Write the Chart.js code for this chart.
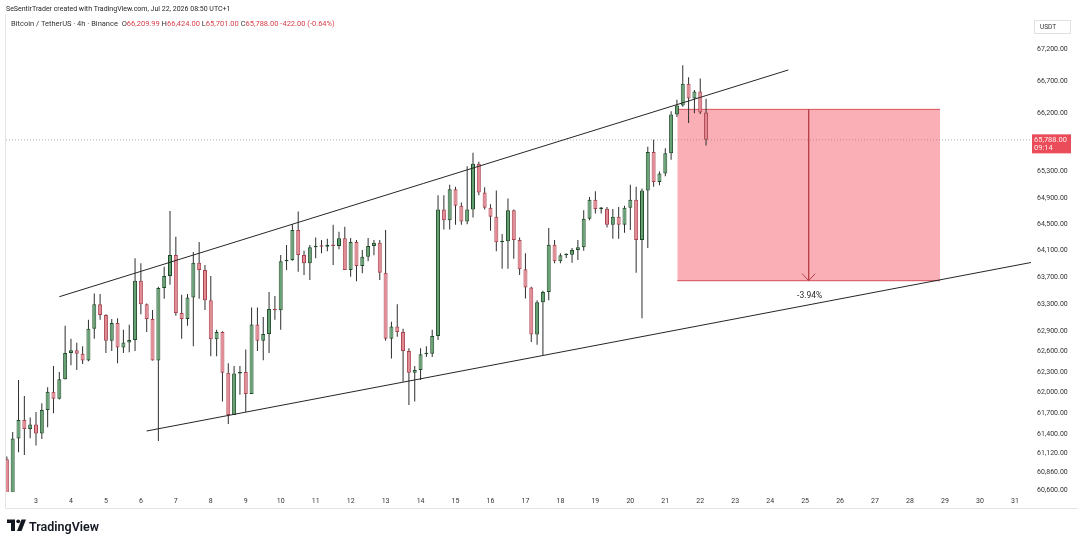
<!DOCTYPE html>
<html><head><meta charset="utf-8">
<script src="https://cdn.jsdelivr.net/npm/chart.js@4.4.1/dist/chart.umd.min.js"></script>
<style>html,body{margin:0;padding:0;background:#fff;}canvas{display:block;}</style>
</head><body>
<canvas id="c" width="1078" height="536"></canvas>
<script>
// ---- data (BTC/USDT, 4h candles) ----
const firstBarDay = 2 + 4/24;   // Jul 2, 04:00
const barHours = 4;
const opens  = [61040,60560,61336,61604,61475,61540,61410,61750,62015,61910,62195,62580,62620,62570,62470,62935,63300,63140,62760,63020,62660,62735,62770,63650,63300,63080,62470,63540,63720,64035,63170,63080,63400,63920,63810,63360,62780,62890,62290,61675,62280,62300,61980,63000,62760,62860,63230,63210,63940,63960,64410,64035,63910,64150,64170,64160,64190,64170,64285,63810,64230,63870,64010,64170,64220,63770,62790,62970,62890,62610,62290,62330,62560,62570,62830,64720,64560,65030,64780,64540,64720,65420,64980,64750,64610,64225,64240,64710,64260,63820,63550,62850,63330,63480,64190,63940,64030,64040,64110,64150,64580,64870,64730,64735,64490,64610,64490,64750,64870,64260,65010,65600,65140,65270,65580,66180,66320,66660,66430,66540,66209.99];
const highs  = [61080,61430,62185,61950,61640,61720,61845,62080,62390,62300,62980,62790,62730,62680,63070,63460,63450,63150,63080,63090,62920,62995,63985,63910,63310,63215,63560,63860,64700,64310,63440,63450,64080,64230,63885,63720,62920,62900,62430,62390,62390,62630,63250,63250,63110,63480,63420,64035,64185,64500,64690,64100,64185,64300,64260,64280,64490,64385,64460,64290,64260,64110,64290,64260,64260,64410,63040,63300,62935,62650,62390,62650,62680,62920,64940,64940,65100,65070,64830,65380,65590,65450,65060,64800,65010,64350,64890,64720,64300,64060,63560,63360,63500,64440,64260,64060,64060,64140,64260,64710,64910,65000,64760,64760,64730,64760,64780,65100,65070,65040,65680,65790,65300,65660,66230,66410,66950,66760,66560,66740,66424];
const lows   = [60500,60520,61140,61100,61340,61235,61330,61500,61700,61900,62190,62400,62330,62420,62460,62790,63070,62580,62610,62430,62580,62590,62610,63150,62890,62470,61300,63380,63590,63130,62790,62980,62680,63380,63215,62530,62530,61870,61545,61675,61970,61720,61980,62610,62475,62580,63070,62920,63810,63950,63785,63735,63660,63985,64060,64090,63885,64120,63810,63710,63640,63760,63940,64030,63660,62760,62500,62820,62160,61820,61870,62185,62520,62520,62770,64420,64420,64490,64490,64500,64600,64940,64720,64400,64090,63830,63830,63980,63735,63385,62740,62700,62550,63360,63910,63910,63990,63920,63960,64100,64560,64660,64660,64450,64280,64280,64370,64410,63770,63090,64140,65070,65090,65230,65480,66140,66300,66050,66200,66190,65701];
const closes = [60540,61336,61604,61475,61540,61410,61750,62015,61910,62195,62580,62620,62570,62470,62935,63300,63140,62760,63020,62660,62735,62770,63650,63300,63080,62470,63540,63720,64035,63170,63080,63400,63920,63810,63360,62780,62890,62290,61675,62280,62300,61980,63000,62760,62860,63230,63210,63940,63960,64410,64035,63910,64150,64170,64160,64190,64170,64285,63810,64230,63870,64010,64170,64220,63770,62790,62970,62890,62610,62290,62330,62560,62570,62830,64720,64560,65030,64780,64540,64720,65420,64980,64750,64610,64225,64240,64710,64260,63820,63550,62850,63330,63480,64190,63940,64030,64040,64110,64150,64580,64870,64730,64735,64490,64610,64490,64750,64870,64260,65010,65600,65140,65270,65580,66180,66320,66660,66430,66540,66210,65788];

const dayTicks   = [3,4,5,6,7,8,9,10,11,12,13,14,15,16,17,18,19,20,21,22,23,24,25,26,27,28,29,30,31];
const priceTicks = [60600,60860,61120,61400,61700,62000,62300,62600,62900,63300,63700,64100,64500,64900,65300,66200,66700,67200];

// drawings (day, price)
const upperTrendDays   = [3.6665, 24.519];
const upperTrendPrices = [63411, 66875];
const lowerTrendDays   = [6.1665, 31.46];
const lowerTrendPrices = [61445, 63922];
const rangeDays   = [21.344, 28.858];
const rangePrices = [66260, 63650];

const xMin = 2.1419, xMax = 31.461;
const yMin = 60572, yMax = 67759;

const headerText = 'SeSentirTrader created with TradingView.com, Jul 22, 2026 08:50 UTC+1';
const symbolText = 'Bitcoin / TetherUS · 4h · Binance';
const countdown = '09:14';

// ---- styling ----
const FONT = 'Roboto, "Liberation Sans", Arial, sans-serif';
Chart.defaults.font.family = FONT;
const UP_FILL='#64a172', UP_EDGE='#1f4a29', DN_FILL='#e58a94', DN_EDGE='#a8424d', WICK='#2e2e2e';
const RED='#d8404c';

const times = opens.map((_, i) => firstBarDay + i * barHours / 24);
const isUp = opens.map((o, i) => closes[i] >= o);
const fmt = v => v.toLocaleString('en-US',{minimumFractionDigits:2, maximumFractionDigits:2});
const last = closes.length - 1;
const rangeMid = (rangeDays[0] + rangeDays[1]) / 2;

const overlay = {
  id: 'overlay',
  afterDraw(chart) {
    const {ctx, chartArea: a, scales: {x, y}} = chart;
    ctx.save();
    // pane borders
    ctx.strokeStyle = '#e4e4e4'; ctx.lineWidth = 1;
    ctx.beginPath();
    ctx.moveTo(a.left - 0.5, a.top); ctx.lineTo(a.left - 0.5, x.bottom + 0.5); ctx.lineTo(chart.width, x.bottom + 0.5);
    ctx.stroke();

    // header
    ctx.textBaseline = 'middle'; ctx.textAlign = 'left';
    ctx.font = `7px ${FONT}`; ctx.fillStyle = '#262626';
    ctx.fillText(headerText, 6, 9);

    // legend
    const chg = closes[last] - closes[last - 1];
    const pct = chg / closes[last - 1] * 100;
    const segs = [
      [symbolText + '  ', '#333'],
      ['O', '#333'], [fmt(opens[last]) + ' ', RED],
      ['H', '#333'], [fmt(highs[last]) + ' ', RED],
      ['L', '#333'], [fmt(lows[last]) + ' ', RED],
      ['C', '#333'], [fmt(closes[last]) + ' ', RED],
      [fmt(chg) + ' (' + pct.toFixed(2) + '%)', RED]
    ];
    ctx.font = `7.5px ${FONT}`;
    let lx = 11;
    for (const [t, c] of segs) { ctx.fillStyle = c; ctx.fillText(t, lx, 24); lx += ctx.measureText(t).width; }

    // USDT box
    ctx.strokeStyle = '#e0e0e0';
    ctx.strokeRect(y.left + 3.5, 20.5, 36, 13);
    ctx.fillStyle = '#333'; ctx.font = `6.5px ${FONT}`;
    ctx.fillText('USDT', y.left + 9, 27);

    // last price badge
    const py = y.getPixelForValue(closes[last]);
    ctx.fillStyle = '#ea4c59';
    ctx.fillRect(y.left + 1, py - 5.5, 39, 19);
    ctx.fillStyle = '#ffecee'; ctx.font = `7.5px ${FONT}`;
    ctx.fillText(fmt(closes[last]), y.left + 3, py + 0.5);
    ctx.fillText(countdown, y.left + 3, py + 8);

    // arrow head + percent label
    const ax = x.getPixelForValue(rangeMid);
    const ay = y.getPixelForValue(rangePrices[1]);
    ctx.strokeStyle = '#b8404a'; ctx.lineWidth = 1;
    ctx.beginPath();
    ctx.moveTo(ax - 6.5, ay - 7); ctx.lineTo(ax, ay); ctx.lineTo(ax + 6.5, ay - 7);
    ctx.stroke();
    const p = (rangePrices[1] - rangePrices[0]) / rangePrices[0] * 100;
    ctx.fillStyle = '#2a2a2a'; ctx.font = `8.5px ${FONT}`; ctx.textAlign = 'center';
    ctx.fillText(p.toFixed(2) + '%', ax + 1, ay + 15);

    // footer TradingView logo
    ctx.fillStyle = '#131722';
    ctx.beginPath();
    ctx.moveTo(7, 519.5); ctx.lineTo(15, 519.5); ctx.lineTo(15, 531); ctx.lineTo(11, 531); ctx.lineTo(11, 523); ctx.lineTo(7, 523); ctx.closePath();
    ctx.fill();
    ctx.beginPath(); ctx.arc(18.2, 521.3, 1.9, 0, Math.PI * 2); ctx.fill();
    ctx.beginPath();
    ctx.moveTo(21.5, 519.5); ctx.lineTo(26, 519.5); ctx.lineTo(21.5, 531); ctx.lineTo(17, 531); ctx.closePath();
    ctx.fill();
    ctx.textAlign = 'left'; ctx.textBaseline = 'alphabetic';
    ctx.font = `600 12.5px ${FONT}`;
    ctx.fillText('TradingView', 29, 531);
    ctx.restore();
  }
};

new Chart(document.getElementById('c'), {
  type: 'bar',
  data: {
    datasets: [
      { type: 'line', label: 'arrow', data: [{x: rangeMid, y: rangePrices[0]}, {x: rangeMid, y: rangePrices[1]}],
        borderColor: '#b8404a', borderWidth: 1, pointRadius: 0, order: 0 },
      { type: 'line', label: 'upper', data: upperTrendDays.map((d, i) => ({x: d, y: upperTrendPrices[i]})),
        borderColor: '#262626', borderWidth: 1, pointRadius: 0, order: 1 },
      { type: 'line', label: 'lower', data: lowerTrendDays.map((d, i) => ({x: d, y: lowerTrendPrices[i]})),
        borderColor: '#262626', borderWidth: 1, pointRadius: 0, order: 1 },
      { type: 'bar', label: 'bodies', data: times.map((t, i) => ({x: t, y: [opens[i], closes[i]]})),
        backgroundColor: isUp.map(u => u ? UP_FILL : DN_FILL), borderColor: isUp.map(u => u ? UP_EDGE : DN_EDGE),
        borderWidth: 1, borderSkipped: false, grouped: false, maxBarThickness: 4, minBarLength: 1.5, order: 4, clip: 0 },
      { type: 'bar', label: 'wicks', data: times.map((t, i) => ({x: t, y: [lows[i], highs[i]]})),
        backgroundColor: WICK, borderWidth: 0, grouped: false, maxBarThickness: 1, order: 5, clip: 0 },
      { type: 'line', label: 'rangeTop', data: rangeDays.map(d => ({x: d, y: rangePrices[0]})),
        borderColor: 'rgba(214,70,82,0.9)', borderWidth: 1, pointRadius: 0, fill: '+1',
        backgroundColor: 'rgba(243,88,100,0.48)', order: 8 },
      { type: 'line', label: 'rangeBottom', data: rangeDays.map(d => ({x: d, y: rangePrices[1]})),
        borderColor: 'rgba(190,55,66,0.9)', borderWidth: 1, pointRadius: 0, fill: false, order: 8 },
      { type: 'line', label: 'lastPrice', data: [{x: xMin, y: closes[last]}, {x: xMax, y: closes[last]}],
        borderColor: '#a9adb3', borderWidth: 1, borderDash: [1, 2], pointRadius: 0, order: 9 }
    ]
  },
  options: {
    responsive: false, animation: false, devicePixelRatio: 1,
    layout: { padding: { left: 6, right: 0, top: 14, bottom: 28 } },
    plugins: { legend: { display: false }, tooltip: { enabled: false } },
    scales: {
      x: {
        type: 'linear', min: xMin, max: xMax, offset: false, bounds: 'data',
        grid: { display: false, drawTicks: false }, border: { display: false },
        ticks: { color: '#333', font: { size: 7 }, padding: 5, autoSkip: false, maxRotation: 0, callback: v => String(v) },
        afterBuildTicks: s => { s.ticks = dayTicks.map(v => ({value: v})); },
        afterFit: s => { s.height = 16; }
      },
      y: {
        type: 'logarithmic', position: 'right', min: yMin, max: yMax, bounds: 'data',
        grid: { display: false, drawTicks: false }, border: { display: false },
        ticks: { color: '#333', font: { size: 7 }, padding: 6, crossAlign: 'near', autoSkip: false, callback: v => fmt(v) },
        afterBuildTicks: s => { s.ticks = priceTicks.map(v => ({value: v})); },
        afterFit: s => { s.width = 47; }
      }
    }
  },
  plugins: [overlay]
});
</script>
</body></html>
